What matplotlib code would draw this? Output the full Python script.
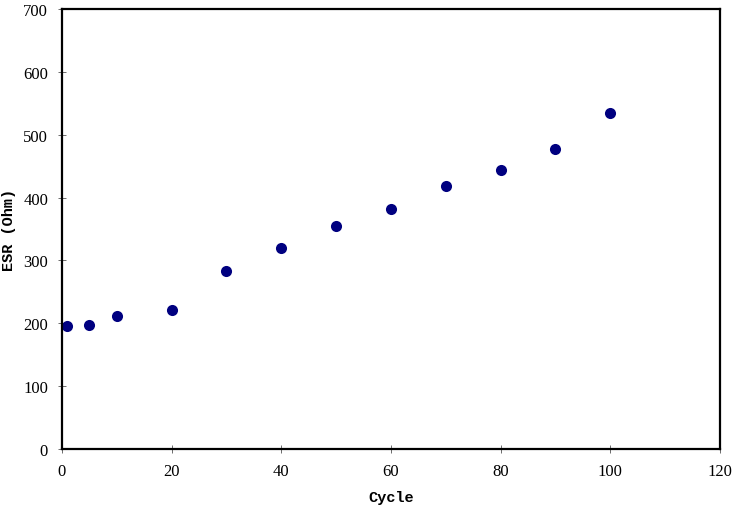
import matplotlib
matplotlib.use('Agg')
import matplotlib.pyplot as plt

# Data
cycle = [1, 5, 10, 20, 30, 40, 50, 60, 70, 80, 90, 100]
esr = [195, 197, 211, 221, 283, 320, 355, 382, 418, 444, 477, 534]

fig = plt.figure(figsize=(7.36, 5.06), dpi=100)
ax = fig.add_axes([0.0842, 0.1107, 0.8938, 0.8693])

ax.plot(cycle, esr, 'o', color='#000080', markersize=8, markeredgewidth=0)

ax.set_xlim(0, 120)
ax.set_ylim(0, 700)
ax.set_xticks(range(0, 121, 20))
ax.set_yticks(range(0, 701, 100))

for s in ax.spines.values():
    s.set_linewidth(1.6)

ax.tick_params(direction='inout', length=6, width=0.6, color='#555555',
               labelsize=12, pad=7)
for lab in ax.get_xticklabels() + ax.get_yticklabels():
    lab.set_fontfamily('Liberation Serif')

ax.set_xlabel('Cycle', fontsize=11, fontweight='bold', family='Liberation Mono', labelpad=8)
ax.set_ylabel('ESR (Ohm)', fontsize=11, fontweight='bold', family='Liberation Mono', labelpad=5)

fig.savefig('out.png', dpi=100)
